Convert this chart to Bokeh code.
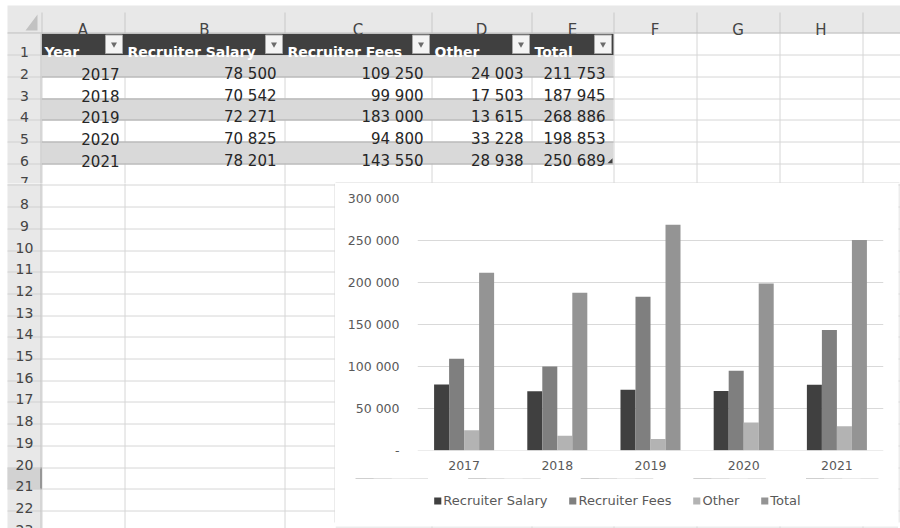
from bokeh.plotting import figure
from bokeh.layouts import column, row
from bokeh.models import (FactorRange, Range1d, FixedTicker, Legend, LegendItem,
                          Span, ColumnDataSource)
from bokeh.transform import dodge
from bokeh.core.properties import value
from bokeh.embed import file_html
from bokeh.resources import INLINE

# ---------------- data ----------------
years = ["2017", "2018", "2019", "2020", "2021"]
recruiter_salary = [78500, 70542, 72271, 70825, 78201]
recruiter_fees = [109250, 99900, 183000, 94800, 143550]
other = [24003, 17503, 13615, 33228, 28938]
total = [211753, 187945, 268886, 198853, 250689]
series_names = ["Recruiter Salary", "Recruiter Fees", "Other", "Total"]
header_labels = ["Year", "Recruiter Salary", "Recruiter Fees", "Other", "Total"]
column_letters = ["A", "B", "C", "D", "E", "F", "G", "H"]
row_numbers = list(range(1, 24))
y_ticks = [0, 50000, 100000, 150000, 200000, 250000, 300000]
y_tick_labels = ["-", "50 000", "100 000", "150 000", "200 000", "250 000", "300 000"]

# ---------------- style / geometry ----------------
FONT = "DejaVu Sans"
COL_EDGES = [7, 41, 124, 284, 431, 531, 613, 696, 779, 862, 945]
HEAD_TOP, HEAD_BOTTOM = 5, 33
ROW_H = 21.7
N_ROWS = 24
GRID_C = "#d6d6d6"
HEAD_BG = "#e8e8e8"
SERIES_COLORS = ["#404040", "#7f7f7f", "#b3b3b3", "#949494"]
TXT_C = "#595959"
BORDER_C = "#d9d9d9"
W, H = 900, 528
CH_L, CH_T, CH_R, CH_B = 335, 183, 898, 521
LEG_T = 478


def fmt(v):
    return f"{v:,}".replace(",", " ")


def draw_sheet(p, bx0, bx1, by0, by1):
    def inside(x, y):
        return bx0 <= x < bx1 and by0 <= y < by1

    def texts(xs, ys, ts, **kw):
        keep = [(x, y, t) for x, y, t in zip(xs, ys, ts) if inside(x, y)]
        if keep:
            p.text(x=[k[0] for k in keep], y=[k[1] for k in keep], text=[k[2] for k in keep],
                   text_font=value(FONT), **kw)

    rows_y = [HEAD_BOTTOM + k * ROW_H for k in range(N_ROWS + 1)]
    xl, xr = COL_EDGES[0], COL_EDGES[-1]
    p.quad(left=[0], right=[960], top=[0], bottom=[560], fill_color="white", line_color=None)
    # grid lines
    vx = [round(x) + 0.5 for x in COL_EDGES[1:]]
    p.segment(x0=vx, x1=vx, y0=[HEAD_BOTTOM] * len(vx), y1=[560] * len(vx),
              line_color=GRID_C, line_width=1)
    hy = [int(y) + 0.5 for y in rows_y[1:]]
    p.segment(x0=[COL_EDGES[1]] * len(hy), x1=[xr] * len(hy), y0=hy, y1=hy,
              line_color=GRID_C, line_width=1)
    # table: header row + banded rows
    t_left, t_right = COL_EDGES[1], COL_EDGES[6]
    p.quad(left=[t_left], right=[t_right], top=[rows_y[0]], bottom=[rows_y[1]],
           fill_color="#404040", line_color=None)
    band_rows = [i for i in range(len(years)) if i % 2 == 0]
    p.quad(left=[t_left] * len(band_rows), right=[t_right] * len(band_rows),
           top=[rows_y[1 + i] for i in band_rows], bottom=[rows_y[2 + i] for i in band_rows],
           fill_color="#d9d9d9", line_color=None)
    ty = [int(rows_y[k]) + 0.5 for k in range(2, 2 + len(years))]
    p.segment(x0=[t_left] * len(ty), x1=[t_right] * len(ty), y0=ty, y1=ty,
              line_color="#ababab", line_width=1)
    # resize handle
    p.patch(x=[t_right - 6, t_right - 1, t_right - 1],
            y=[rows_y[6] - 0.5, rows_y[6] - 0.5, rows_y[6] - 5.5],
            fill_color="#404040", line_color=None)
    # column header band & row header column
    p.quad(left=[xl], right=[xr], top=[HEAD_TOP], bottom=[HEAD_BOTTOM], fill_color=HEAD_BG, line_color=None)
    p.quad(left=[xl], right=[COL_EDGES[1]], top=[HEAD_BOTTOM], bottom=[560], fill_color=HEAD_BG, line_color=None)
    # active row 21
    p.quad(left=[xl], right=[COL_EDGES[1]], top=[rows_y[20]], bottom=[rows_y[21]],
           fill_color="#d2d2d2", line_color=None)
    p.segment(x0=[COL_EDGES[1] - 0.5], x1=[COL_EDGES[1] - 0.5], y0=[rows_y[20]], y1=[rows_y[21]],
              line_color="#6a6a6a", line_width=2)
    # header separators
    p.segment(x0=vx, x1=vx, y0=[12] * len(vx), y1=[HEAD_BOTTOM] * len(vx),
              line_color="#c8c8c8", line_width=1)
    p.segment(x0=[xl] * len(hy), x1=[COL_EDGES[1]] * len(hy), y0=hy, y1=hy,
              line_color="#d0d0d0", line_width=1)
    p.segment(x0=[xl], x1=[xr], y0=[HEAD_BOTTOM - 0.5], y1=[HEAD_BOTTOM - 0.5], line_color="#bdbdbd")
    p.segment(x0=[COL_EDGES[1] - 0.5], x1=[COL_EDGES[1] - 0.5], y0=[HEAD_BOTTOM], y1=[560], line_color="#c4c4c4")
    # select-all triangle
    p.patch(x=[25, 37, 37], y=[30, 30, 14], fill_color="#c2c2c2", line_color=None)
    # column letters
    cx = [(COL_EDGES[i + 1] + COL_EDGES[i + 2]) / 2 for i in range(len(column_letters))]
    texts(cx, [HEAD_BOTTOM - 3.5] * len(cx), column_letters, text_align="center",
          text_baseline="alphabetic", text_font_size="15px", text_color="#444444")
    # row numbers
    texts([24] * len(row_numbers), [rows_y[k] - 3 for k in row_numbers],
          [str(n) for n in row_numbers], text_align="center", text_baseline="alphabetic",
          text_font_size="14px", text_color="#444444")
    # table header text
    hx = [COL_EDGES[1 + c] + 3 for c in range(len(header_labels))]
    texts(hx, [rows_y[1] - 3] * len(hx), header_labels, text_align="left",
          text_baseline="alphabetic", text_font_size="14px",
          text_font_style="bold", text_color="white")
    # dropdown buttons
    br = [COL_EDGES[2 + c] - 2 for c in range(len(header_labels))]
    p.quad(left=[r - 17 for r in br], right=br, top=[34.5] * len(br), bottom=[53] * len(br),
           fill_color="#f4f4f4", line_color="#a8a8a8", line_width=1)
    p.scatter(x=[r - 8.5 for r in br], y=[43.8] * len(br), marker="inverted_triangle", size=6,
              fill_color="#6b6b6b", line_color=None)
    # data text
    cols = [years, [fmt(v) for v in recruiter_salary], [fmt(v) for v in recruiter_fees],
            [fmt(v) for v in other], [fmt(v) for v in total]]
    pads = [5, 8, 8, 8, 8]
    xs, ys, ts = [], [], []
    for c, vals in enumerate(cols):
        for i, t in enumerate(vals):
            xs.append(COL_EDGES[2 + c] - pads[c])
            ys.append(rows_y[2 + i] - 3)
            ts.append(t)
    texts(xs, ys, ts, text_align="right", text_baseline="alphabetic",
          text_font_size="15px", text_color="#262626")


def sheet_fig(x0, x1, y0, y1, text_y1=None):
    f = figure(width=x1 - x0, height=y1 - y0, x_range=Range1d(x0, x1), y_range=Range1d(y1, y0),
               output_backend="svg", toolbar_location=None, min_border=0, frame_align=False,
               x_axis_type=None, y_axis_type=None, outline_line_color=None,
               border_fill_color="white", background_fill_color="white")
    draw_sheet(f, x0, x1, y0, text_y1 if text_y1 is not None else y1)
    return f


top = sheet_fig(0, W, 0, CH_T)
top.segment(x0=[CH_L], x1=[CH_R + 1], y0=[CH_T - 0.5], y1=[CH_T - 0.5], line_color=BORDER_C, line_width=1)
left = sheet_fig(0, CH_L, CH_T, H, text_y1=560)
left.segment(x0=[CH_L - 0.5], x1=[CH_L - 0.5], y0=[CH_T], y1=[CH_B + 1], line_color=BORDER_C, line_width=1)
right = sheet_fig(CH_R, W, CH_T, H)
right.segment(x0=[CH_R + 0.5], x1=[CH_R + 0.5], y0=[CH_T], y1=[CH_B + 1], line_color=BORDER_C, line_width=1)
strip = sheet_fig(CH_L, CH_R, CH_B, H)
strip.segment(x0=[CH_L], x1=[CH_R], y0=[CH_B + 0.5], y1=[CH_B + 0.5], line_color=BORDER_C, line_width=1)

# ---------------- chart ----------------
src = ColumnDataSource(data=dict(years=years, salary=recruiter_salary, fees=recruiter_fees,
                                 other=other, total=total))
BW = 0.161
keys = ["salary", "fees", "other", "total"]
offs = [-1.5 * BW, -0.5 * BW, 0.5 * BW, 1.5 * BW]

chart = figure(width=CH_R - CH_L, height=LEG_T - CH_T,
               x_range=FactorRange(factors=years), y_range=Range1d(0, 300000),
               output_backend="svg", toolbar_location=None, frame_align=False,
               min_border_left=82, min_border_right=15, min_border_top=15, min_border_bottom=28,
               outline_line_color=None, background_fill_color="white", border_fill_color="white")
for k, o, c in zip(keys, offs, SERIES_COLORS):
    chart.vbar(x=dodge("years", o, range=chart.x_range), top=k, width=BW,
               source=src, fill_color=c, line_color=None)

chart.xgrid.grid_line_color = None
chart.ygrid.grid_line_color = BORDER_C
chart.ygrid.ticker = FixedTicker(ticks=y_ticks)
chart.add_layout(Span(location=0, dimension="width", line_color=BORDER_C, line_width=1))
chart.yaxis.ticker = FixedTicker(ticks=y_ticks)
chart.yaxis.major_label_overrides = dict(zip(y_ticks, y_tick_labels))
for ax in (chart.xaxis[0], chart.yaxis[0]):
    ax.axis_line_color = None
    ax.major_tick_line_color = None
    ax.minor_tick_line_color = None
    ax.major_tick_in = 0
    ax.major_tick_out = 0
    ax.major_label_text_font = FONT
    ax.major_label_text_font_size = "12.5px"
    ax.major_label_text_color = TXT_C
chart.yaxis.major_label_standoff = 18
chart.xaxis.major_label_standoff = 10

# ---------------- legend strip (bottom part of the chart box) ----------------
leg = figure(width=CH_R - CH_L, height=CH_B - LEG_T,
             x_range=FactorRange(factors=years), y_range=Range1d(-2, -1),
             output_backend="svg", toolbar_location=None, min_border=0, frame_align=False,
             x_axis_type=None, y_axis_type=None, outline_line_color=None,
             border_fill_color="white", background_fill_color="white")
leg.xgrid.visible = False
leg.ygrid.visible = False
rends = []
for k, o, c in zip(keys, offs, SERIES_COLORS):
    # same series as zero-height bars outside the visible range: they only feed the legend
    rends.append(leg.vbar(x=dodge("years", o, range=leg.x_range), top=k, bottom=k, width=BW,
                          source=src, fill_color=c, line_color=None))
legend = Legend(items=[LegendItem(label=n, renderers=[r]) for n, r in zip(series_names, rends)],
                orientation="horizontal", location="top_center", glyph_width=9, glyph_height=9,
                label_standoff=2, spacing=20, padding=0, margin=15, border_line_color=None,
                background_fill_alpha=0, label_text_font=FONT, label_text_font_size="13px",
                label_text_color=TXT_C, label_height=14)
leg.add_layout(legend, "center")

layout = column(top, row(left, column(chart, leg, strip, spacing=0), right, spacing=0), spacing=0)
open("out.html", "w").write(file_html(layout, INLINE))
